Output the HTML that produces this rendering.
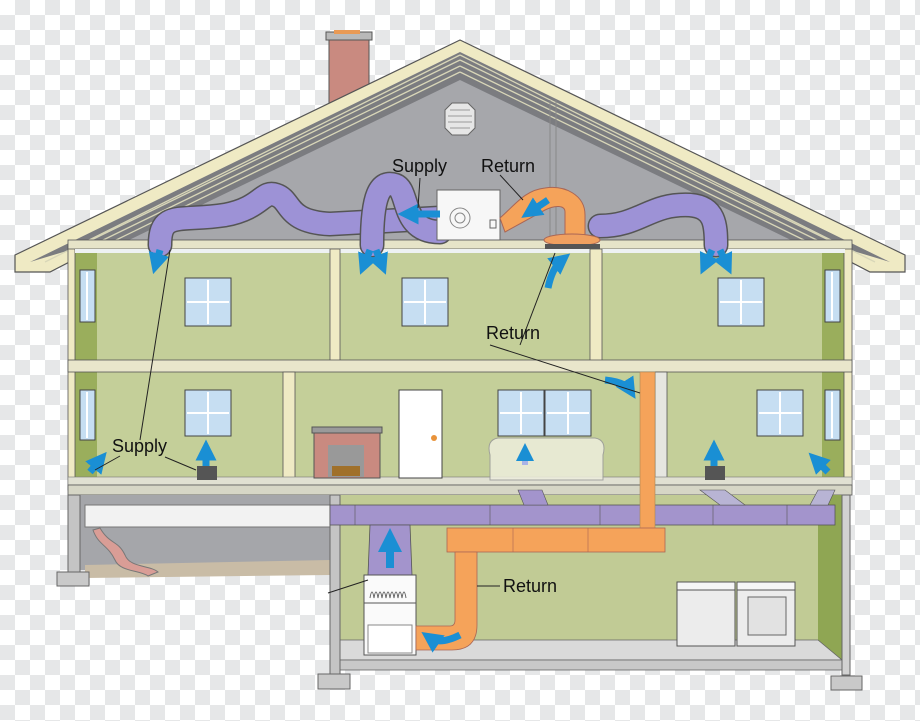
<!DOCTYPE html>
<html><head><meta charset="utf-8"><style>
html,body{margin:0;padding:0;width:920px;height:721px;overflow:hidden;background:#fff}
svg{display:block}
text{font-family:"Liberation Sans",Arial,sans-serif;font-size:18px;fill:#111}
</style></head><body>
<svg width="920" height="721" viewBox="0 0 920 721" xmlns="http://www.w3.org/2000/svg">
<defs>
<pattern id="ck" width="30" height="30" patternUnits="userSpaceOnUse">
<rect width="30" height="30" fill="#fff"/>
<rect x="15" y="0" width="15" height="15" fill="#e6e7e8"/>
<rect x="0" y="15" width="15" height="15" fill="#e6e7e8"/>
</pattern>
<marker id="ah" viewBox="0 0 10 10" refX="5" refY="5" markerWidth="3" markerHeight="3" orient="auto"><path d="M0,0 L10,5 L0,10 z" fill="#1a8fd4"/></marker>
</defs>
<rect width="920" height="721" fill="url(#ck)"/>

<rect x="326" y="32" width="46" height="8" fill="#b9b9b9" stroke="#555" stroke-width="1"/>
<rect x="334" y="30" width="26" height="4" fill="#e99a55"/>
<rect x="329" y="40" width="40" height="65" fill="#c98a80" stroke="#555" stroke-width="1"/>

<!-- roof -->
<polygon points="15,255 460,40 905,255 905,272 870,272 460,60 50,272 15,272" fill="#efeac4" stroke="#555" stroke-width="1.2"/>
<polygon points="30,262 460,52 890,262 850,250 70,250" fill="#7b7c80"/>
<polygon points="125,242 460,80 795,242" fill="#a6a7ab"/>
<g stroke="#d8d6b8" stroke-width="1.3" fill="none">
<line x1="460" y1="55" x2="45" y2="262"/><line x1="460" y1="60" x2="75" y2="248"/><line x1="460" y1="66" x2="95" y2="244"/><line x1="460" y1="72" x2="112" y2="242"/>
<line x1="460" y1="55" x2="875" y2="262"/><line x1="460" y1="60" x2="845" y2="248"/><line x1="460" y1="66" x2="825" y2="244"/><line x1="460" y1="72" x2="808" y2="242"/>
</g>
<polygon points="445,110 452,103 468,103 475,110 475,128 468,135 452,135 445,128" fill="#e6e6e6" stroke="#666"/>
<g stroke="#999" stroke-width="1"><line x1="450" y1="110" x2="470" y2="110"/><line x1="448" y1="116" x2="472" y2="116"/><line x1="448" y1="122" x2="472" y2="122"/><line x1="450" y1="128" x2="470" y2="128"/></g>
<line x1="550" y1="100" x2="550" y2="240" stroke="#888"/><line x1="556" y1="100" x2="556" y2="240" stroke="#888"/>

<rect x="68" y="245" width="782" height="245" fill="#c4cf99"/>
<rect x="75" y="252" width="22" height="108" fill="#9aae5c"/>
<rect x="822" y="252" width="22" height="108" fill="#9aae5c"/>
<rect x="75" y="372" width="22" height="106" fill="#9aae5c"/>
<rect x="822" y="372" width="22" height="106" fill="#9aae5c"/>
<rect x="68" y="245" width="7" height="245" fill="#efeac4" stroke="#555" stroke-width="0.8"/>
<rect x="844" y="245" width="8" height="245" fill="#efeac4" stroke="#555" stroke-width="0.8"/>
<rect x="68" y="240" width="784" height="9" fill="#e6e4c8" stroke="#555" stroke-width="0.8"/>
<rect x="75" y="249" width="770" height="4" fill="#eef2f2"/>
<rect x="330" y="249" width="10" height="112" fill="#efeac4" stroke="#555" stroke-width="0.8"/>
<rect x="590" y="249" width="12" height="112" fill="#efeac4" stroke="#555" stroke-width="0.8"/>
<rect x="68" y="360" width="784" height="12" fill="#e9e6cb" stroke="#555" stroke-width="0.8"/>
<rect x="283" y="372" width="12" height="108" fill="#efeac4" stroke="#555" stroke-width="0.8"/>
<rect x="655" y="372" width="12" height="108" fill="#e6e6e0" stroke="#555" stroke-width="0.8"/>
<rect x="68" y="477" width="784" height="8" fill="#e0e0d2" stroke="#777" stroke-width="0.6"/>
<rect x="68" y="485" width="784" height="10" fill="#d6d6c6" stroke="#555" stroke-width="0.8"/>

<rect x="68" y="495" width="262" height="75" fill="#a5a6aa"/>
<polygon points="85,565 330,560 330,575 85,578" fill="#c9bca6"/>
<rect x="68" y="495" width="12" height="80" fill="#c4c4c4" stroke="#666"/>
<rect x="57" y="572" width="32" height="14" fill="#c9c9c9" stroke="#666"/>
<rect x="85" y="505" width="245" height="22" fill="#f2f2f2" stroke="#777"/>
<path d="M100,528 C110,545 118,540 125,555 C130,568 150,565 158,572 L148,576 C140,570 120,572 115,560 C108,545 98,545 93,530 z" fill="#d99d96" stroke="#777"/>

<rect x="330" y="495" width="515" height="150" fill="#c1cb95"/>
<polygon points="818,495 842,495 842,665 818,640" fill="#8fa653"/>
<polygon points="340,640 818,640 842,660 340,660" fill="#dadada" stroke="#666" stroke-width="0.8"/>
<rect x="340" y="660" width="502" height="10" fill="#c8c8c8" stroke="#666" stroke-width="0.8"/>
<rect x="330" y="495" width="10" height="180" fill="#c4c4c4" stroke="#666"/>
<rect x="318" y="674" width="32" height="15" fill="#c9c9c9" stroke="#666"/>
<rect x="842" y="495" width="8" height="180" fill="#d2d2d2" stroke="#666"/>
<rect x="831" y="676" width="31" height="14" fill="#c9c9c9" stroke="#666"/>

<rect x="330" y="505" width="505" height="20" fill="#a394cc" stroke="#555" stroke-width="0.8"/>
<g stroke="#555" stroke-width="0.6"><line x1="355" y1="505" x2="355" y2="525"/><line x1="490" y1="505" x2="490" y2="525"/><line x1="600" y1="505" x2="600" y2="525"/><line x1="713" y1="505" x2="713" y2="525"/><line x1="787" y1="505" x2="787" y2="525"/></g>
<polygon points="518,490 542,490 548,505 524,505" fill="#a394cc" stroke="#555" stroke-width="0.6"/>
<polygon points="700,490 725,490 745,505 720,505" fill="#b8b4d4" stroke="#555" stroke-width="0.6"/>
<polygon points="818,490 835,490 828,505 810,505" fill="#b8b4d4" stroke="#555" stroke-width="0.6"/>
<polygon points="370,525 410,525 412,575 368,575" fill="#a394cc" stroke="#555" stroke-width="0.8"/>
<rect x="364" y="575" width="52" height="80" fill="#fafafa" stroke="#555"/>
<line x1="364" y1="603" x2="416" y2="603" stroke="#555"/>
<path d="M370,598 q2,-12 4,0 q2,-12 4,0 q2,-12 4,0 q2,-12 4,0 q2,-12 4,0 q2,-12 4,0 q2,-12 4,0 q2,-12 4,0 q2,-12 4,0" fill="none" stroke="#666"/>
<rect x="368" y="625" width="44" height="28" fill="#fff" stroke="#888"/>
<rect x="640" y="372" width="15" height="158" fill="#f5a35a" stroke="#a85" stroke-width="0.6"/>
<rect x="447" y="528" width="218" height="24" fill="#f5a35a" stroke="#a65" stroke-width="0.8"/>
<line x1="513" y1="528" x2="513" y2="552" stroke="#a65" stroke-width="0.6"/><line x1="588" y1="528" x2="588" y2="552" stroke="#a65" stroke-width="0.6"/>
<path d="M455,552 L477,552 L477,625 Q477,650 452,650 L416,650 L416,626 L450,626 Q455,626 455,620 z" fill="#f5a35a" stroke="#a65" stroke-width="0.8"/>
<path d="M460,635 Q440,645 430,638" stroke="#1a8fd4" stroke-width="7" fill="none" marker-end="url(#ah)"/>
<path d="M390,568 L390,540" stroke="#1a8fd4" stroke-width="8" fill="none" marker-end="url(#ah)"/>

<rect x="677" y="586" width="58" height="60" fill="#ececec" stroke="#555"/>
<rect x="677" y="582" width="58" height="8" fill="#f6f6f6" stroke="#555"/>
<rect x="737" y="586" width="58" height="60" fill="#ececec" stroke="#555"/>
<rect x="737" y="582" width="58" height="8" fill="#f6f6f6" stroke="#555"/>
<rect x="748" y="597" width="38" height="38" fill="#e2e2e2" stroke="#666"/>

<g fill="#c6def2" stroke="#444" stroke-width="1">
<rect x="185" y="278" width="46" height="48"/><rect x="402" y="278" width="46" height="48"/><rect x="718" y="278" width="46" height="48"/>
<rect x="185" y="390" width="46" height="46"/><rect x="498" y="390" width="46" height="46"/><rect x="545" y="390" width="46" height="46"/><rect x="757" y="390" width="46" height="46"/>
<rect x="80" y="270" width="15" height="52"/><rect x="825" y="270" width="15" height="52"/>
<rect x="80" y="390" width="15" height="50"/><rect x="825" y="390" width="15" height="50"/>
</g>
<g stroke="#fff" stroke-width="2">
<line x1="208" y1="280" x2="208" y2="324"/><line x1="187" y1="302" x2="229" y2="302"/>
<line x1="425" y1="280" x2="425" y2="324"/><line x1="404" y1="302" x2="446" y2="302"/>
<line x1="741" y1="280" x2="741" y2="324"/><line x1="720" y1="302" x2="762" y2="302"/>
<line x1="208" y1="392" x2="208" y2="434"/><line x1="187" y1="413" x2="229" y2="413"/>
<line x1="521" y1="392" x2="521" y2="434"/><line x1="500" y1="413" x2="542" y2="413"/>
<line x1="568" y1="392" x2="568" y2="434"/><line x1="547" y1="413" x2="589" y2="413"/>
<line x1="780" y1="392" x2="780" y2="434"/><line x1="759" y1="413" x2="801" y2="413"/>
<line x1="87" y1="272" x2="87" y2="320"/><line x1="832" y1="272" x2="832" y2="320"/>
<line x1="87" y1="392" x2="87" y2="438"/><line x1="832" y1="392" x2="832" y2="438"/>
</g>
<rect x="399" y="390" width="43" height="88" fill="#fff" stroke="#444"/>
<circle cx="434" cy="438" r="3" fill="#e9933a"/>
<rect x="314" y="428" width="66" height="50" fill="#c98a80" stroke="#555"/>
<rect x="312" y="427" width="70" height="6" fill="#9a9a9a" stroke="#555"/>
<rect x="328" y="445" width="36" height="32" fill="#999"/>
<rect x="332" y="466" width="28" height="10" fill="#a0702a"/>
<path d="M490,480 L490,455 Q486,440 498,438 L595,438 Q607,440 603,455 L603,480 z" fill="#eeeedd" opacity="0.85" stroke="#999"/>
<path d="M525,465 L525,452" stroke="#a9b3e6" stroke-width="6" marker-end="url(#ah)"/>

<g fill="none" stroke-linecap="round">
<path d="M160,245 C160,210 180,222 225,215 C262,208 262,190 276,195 C292,200 285,222 330,224 L440,218" stroke="#555" stroke-width="25"/>
<path d="M160,245 C160,210 180,222 225,215 C262,208 262,190 276,195 C292,200 285,222 330,224 L440,218" stroke="#9d92d6" stroke-width="22"/>
<path d="M372,245 C372,195 380,180 395,185 C410,190 400,232 440,232" stroke="#555" stroke-width="25"/>
<path d="M372,245 C372,195 380,180 395,185 C410,190 400,232 440,232" stroke="#9d92d6" stroke-width="22"/>
<path d="M600,226 C640,226 650,203 690,205 C715,207 716,225 716,245" stroke="#555" stroke-width="25"/>
<path d="M600,226 C640,226 650,203 690,205 C715,207 716,225 716,245" stroke="#9d92d6" stroke-width="22"/>
</g>
<rect x="437" y="190" width="63" height="50" fill="#f7f7f7" stroke="#666"/>
<circle cx="460" cy="218" r="10" fill="none" stroke="#888"/><circle cx="460" cy="218" r="5" fill="none" stroke="#888"/>
<rect x="490" y="220" width="6" height="8" fill="none" stroke="#666"/>
<path d="M500,218 C515,205 525,190 545,188 C565,185 585,195 585,215 L585,235 L565,235 L565,212 C565,205 555,205 545,210 L505,232 z" fill="#f5a35a" stroke="#a65"/>
<ellipse cx="572" cy="240" rx="28" ry="6" fill="#f0a060" stroke="#a65"/>
<rect x="545" y="244" width="55" height="5" fill="#555"/>
<g stroke="#1a8fd4" fill="none" stroke-width="7">
<path d="M440,214 L408,214" marker-end="url(#ah)"/>
<path d="M548,200 L530,212" marker-end="url(#ah)"/>
<path d="M548,288 Q552,268 562,260" marker-end="url(#ah)"/>
<path d="M160,250 L156,264" marker-end="url(#ah)"/>
<path d="M370,250 L364,265" marker-end="url(#ah)"/><path d="M376,250 L382,265" marker-end="url(#ah)"/>
<path d="M712,250 L705,265" marker-end="url(#ah)"/><path d="M720,250 L727,265" marker-end="url(#ah)"/>
<path d="M605,380 Q625,382 630,390" marker-end="url(#ah)"/>
<path d="M90,472 L100,460" marker-end="url(#ah)"/>
<path d="M206,470 L206,450" marker-end="url(#ah)"/>
<path d="M714,470 L714,450" marker-end="url(#ah)"/>
<path d="M828,472 L816,460" marker-end="url(#ah)"/>
</g>
<rect x="197" y="466" width="20" height="14" fill="#555"/>
<rect x="705" y="466" width="20" height="14" fill="#555"/>

<g stroke="#222" stroke-width="1" fill="none">
<line x1="420" y1="178" x2="418" y2="208"/>
<line x1="500" y1="175" x2="523" y2="200"/>
<line x1="520" y1="345" x2="555" y2="253"/>
<line x1="490" y1="345" x2="640" y2="393"/>
<line x1="170" y1="250" x2="140" y2="440"/>
<line x1="120" y1="456" x2="95" y2="470"/>
<line x1="165" y1="457" x2="196" y2="470"/>
<line x1="477" y1="586" x2="500" y2="586"/>
<line x1="328" y1="593" x2="368" y2="580"/>
</g>
<text x="392" y="172">Supply</text>
<text x="481" y="172">Return</text>
<text x="486" y="339">Return</text>
<text x="112" y="452">Supply</text>
<text x="503" y="592">Return</text>
</svg>
</body></html>
